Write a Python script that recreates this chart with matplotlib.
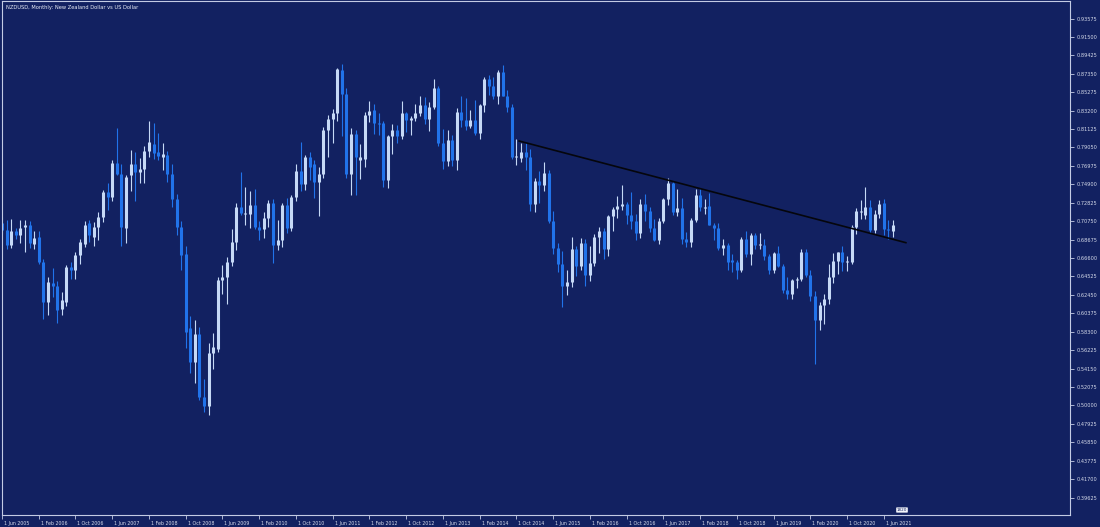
import matplotlib
matplotlib.use("Agg")
import matplotlib.pyplot as plt
import matplotlib.transforms as mtrans
import numpy as np

# NZDUSD monthly candles, Jun 2005 .. Aug 2021
opens = [
    .7060, .6975, .6810, .6960, .6920, .7010, .7030,                                   # 2005 Jun-Dec
    .6820, .6900, .6620, .6160, .6380, .6350, .6090, .6170, .6560, .6520, .6690, .6820,  # 2006
    .7060, .6900, .7010, .7120, .7400, .7350, .7730, .7610, .7000, .7590, .7720, .7630,  # 2007
    .7660, .7860, .7940, .7850, .7800, .7820, .7610, .7330, .7010, .6710, .5870, .5490,  # 2008
    .5810, .5100, .4990, .5590, .5640, .6410, .6450, .6620, .6840, .7240, .7160, .7160,  # 2009
    .7260, .7010, .6990, .7110, .7280, .6810, .6860, .7260, .7000, .7350, .7640, .7490,  # 2010
    .7800, .7720, .7520, .7610, .8100, .8230, .8290, .8780, .8510, .7610, .8060, .7765,  # 2011
    .7780, .8270, .8330, .8180, .8180, .7540, .8030, .8100, .8030, .8290, .8220, .8240,  # 2012
    .8290, .8380, .8230, .8360, .8570, .7950, .7750, .7990, .7760, .8310, .8220, .8150,  # 2013
    .8220, .8070, .8380, .8680, .8600, .8480, .8760, .8490, .8360, .7800, .7790, .7850,  # 2014
    .7800, .7270, .7530, .7480, .7620, .7080, .6770, .6590, .6350, .6390, .6760, .6570,  # 2015
    .6830, .6470, .6600, .6900, .6970, .6760, .7130, .7210, .7250, .7270, .7150, .7080,  # 2016
    .6940, .7270, .7190, .7000, .6860, .7080, .7330, .7510, .7180, .7220, .6880, .6840,  # 2017
    .7090, .7370, .7220, .7250, .7030, .6995, .6770, .6810, .6640, .6620, .6530, .6880,  # 2018
    .6710, .6920, .6810, .6810, .6680, .6530, .6720, .6570, .6300, .6260, .6410, .6420,  # 2019
    .6730, .6470, .6230, .5960, .6130, .6200, .6450, .6630, .6730, .6610, .6620, .7010,  # 2020
    .7180, .7150, .7230, .6980, .7160, .7280, .6990, .6960,                              # 2021 Jan-Aug
]
highs = [
    .7120, .7090, .7100, .7000, .7090, .7090, .7080,
    .6960, .6960, .6650, .6450, .6550, .6400, .6280, .6580, .6620, .6730, .6880, .7080,
    .7090, .7070, .7180, .7430, .7500, .7760, .8120, .7720, .7600, .7880, .7850, .7790,
    .7920, .8200, .8180, .8070, .7960, .7860, .7720, .7380, .7080, .6800, .6010, .5960,
    .5880, .5300, .5700, .5820, .6450, .6580, .6670, .6990, .7280, .7630, .7460, .7410,
    .7440, .7080, .7180, .7310, .7330, .7090, .7280, .7340, .7370, .7720, .7970, .7820,
    .7850, .7760, .7690, .8140, .8270, .8340, .8800, .8843, .8580, .8120, .8100, .7940,
    .8300, .8430, .8400, .8290, .8200, .8050, .8170, .8160, .8430, .8300, .8260, .8400,
    .8480, .8470, .8420, .8676, .8600, .8110, .8100, .8050, .8350, .8490, .8460, .8330,
    .8440, .8400, .8700, .8720, .8700, .8780, .8836, .8550, .8400, .8000, .7960, .7960,
    .7890, .7560, .7640, .7740, .7650, .7190, .6830, .6740, .6530, .6900, .6790, .6890,
    .6870, .6790, .6930, .7010, .7000, .7150, .7240, .7360, .7485, .7290, .7400, .7160,
    .7320, .7380, .7240, .7100, .7110, .7340, .7558, .7520, .7435, .7340, .6950, .7110,
    .7440, .7440, .7320, .7390, .7060, .7060, .6870, .6830, .6700, .6640, .6900, .6970,
    .6940, .6940, .6940, .6880, .6700, .6730, .6790, .6590, .6450, .6420, .6450, .6760,
    .6760, .6530, .6290, .6170, .6250, .6590, .6720, .6730, .6800, .6680, .7030, .7220,
    .7310, .7465, .7310, .7200, .7310, .7320, .7090, .7090,
]
lows = [
    .6930, .6760, .6770, .6870, .6830, .6730, .6770,
    .6760, .6590, .5975, .6020, .6220, .5930, .6020, .6120, .6420, .6420, .6590, .6780,
    .6840, .6800, .6860, .7070, .7200, .7300, .7600, .6800, .6830, .7420, .7300, .7510,
    .7500, .7800, .7780, .7760, .7650, .7520, .7230, .6920, .6520, .5650, .5370, .5250,
    .5060, .4930, .4890, .5410, .5600, .6250, .6140, .6570, .6750, .7150, .7030, .7000,
    .6990, .6860, .6890, .7010, .6600, .6750, .6780, .6940, .6960, .7300, .7410, .7430,
    .7540, .7340, .7130, .7560, .7800, .7950, .8200, .8030, .7560, .7370, .7370, .7550,
    .7680, .8190, .8060, .8050, .7460, .7450, .7830, .7950, .8000, .8080, .8050, .8200,
    .8260, .8170, .8090, .8340, .7920, .7660, .7700, .7700, .7650, .8140, .8100, .8120,
    .8050, .8000, .8300, .8500, .8450, .8400, .8490, .8310, .7770, .7710, .7740, .7650,
    .7190, .7180, .7280, .7410, .7060, .6710, .6500, .6110, .6240, .6330, .6460, .6520,
    .6350, .6400, .6570, .6720, .6650, .6680, .6960, .7110, .7200, .7040, .6990, .6860,
    .6890, .7080, .6950, .6850, .6820, .7050, .7260, .7150, .7130, .6820, .6780, .6780,
    .7070, .7190, .7160, .7030, .6860, .6750, .6690, .6530, .6500, .6420, .6500, .6670,
    .6580, .6760, .6760, .6640, .6480, .6490, .6560, .6270, .6200, .6200, .6320, .6400,
    .6450, .6180, .5469, .5850, .5920, .6140, .6380, .6480, .6510, .6510, .6590, .6930,
    .7100, .7100, .6940, .6940, .7110, .6920, .6880, .6900,
]
closes = [
    .6975, .6810, .6960, .6920, .7000, .7030, .6830,
    .6890, .6620, .6160, .6390, .6340, .6080, .6190, .6560, .6520, .6690, .6840, .7030,
    .6920, .7010, .7120, .7400, .7350, .7730, .7610, .7010, .7570, .7720, .7630, .7660,
    .7860, .7970, .7840, .7810, .7830, .7610, .7330, .7010, .6690, .5830, .5490, .5810,
    .5100, .4990, .5590, .5660, .6410, .6450, .6620, .6840, .7240, .7170, .7170, .7260,
    .7010, .6980, .7110, .7280, .6810, .6860, .7260, .7000, .7350, .7640, .7490, .7800,
    .7690, .7520, .7610, .8100, .8230, .8290, .8790, .8510, .7610, .8060, .7800, .7800,
    .8270, .8320, .8180, .8170, .7540, .8030, .8100, .8030, .8290, .8220, .8240, .8290,
    .8380, .8230, .8360, .8570, .7950, .7750, .7990, .7760, .8310, .8220, .8150, .8220,
    .8070, .8380, .8680, .8600, .8480, .8760, .8490, .8360, .7800, .7810, .7850, .7800,
    .7270, .7530, .7480, .7620, .7080, .6770, .6590, .6350, .6390, .6760, .6570, .6830,
    .6470, .6600, .6900, .6970, .6760, .7130, .7210, .7250, .7270, .7150, .7080, .6940,
    .7270, .7190, .7000, .6860, .7080, .7330, .7510, .7180, .7220, .6880, .6840, .7090,
    .7370, .7240, .7230, .7030, .6995, .6770, .6810, .6620, .6620, .6530, .6880, .6710,
    .6920, .6810, .6812, .6680, .6530, .6720, .6570, .6300, .6260, .6410, .6420, .6730,
    .6470, .6230, .5960, .6130, .6200, .6450, .6630, .6730, .6610, .6620, .7010, .7190,
    .7190, .7230, .6980, .7160, .7270, .6990, .6980, .7030,
]

date_labels = ["1 Jun 2005", "1 Feb 2006", "1 Oct 2006", "1 Jun 2007", "1 Feb 2008",
               "1 Oct 2008", "1 Jun 2009", "1 Feb 2010", "1 Oct 2010", "1 Jun 2011",
               "1 Feb 2012", "1 Oct 2012", "1 Jun 2013", "1 Feb 2014", "1 Oct 2014",
               "1 Jun 2015", "1 Feb 2016", "1 Oct 2016", "1 Jun 2017", "1 Feb 2018",
               "1 Oct 2018", "1 Jun 2019", "1 Feb 2020", "1 Oct 2020", "1 Jun 2021"]
price_ticks = [0.39625, 0.41700, 0.43775, 0.45850, 0.47925, 0.50000, 0.52075, 0.54150,
               0.56225, 0.58300, 0.60375, 0.62450, 0.64525, 0.66600, 0.68675, 0.70750,
               0.72825, 0.74900, 0.76975, 0.79050, 0.81125, 0.83200, 0.85275, 0.87350,
               0.89425, 0.91500, 0.93575]

# hand drawn trend line (bar index, price)
trend_x = [112.6, 196.8]
trend_y = [0.7978, 0.6833]

bg = '#122161'
frame = '#c3cbe4'
bull_col = '#c6d9f6'
bear_col = '#2173ea'

o = np.array(opens); h = np.array(highs); l = np.array(lows); c = np.array(closes)
x = np.arange(len(o))
up = c >= o
cols = np.where(up, bull_col, bear_col)

fig = plt.figure(figsize=(11, 5.27), dpi=100, facecolor=bg)
ax = fig.add_axes([2/1100, 12/527, 1068/1100, 514/527])
ax.set_facecolor(bg)

# wicks, then bodies as thick butt-capped lines (3 px wide)
ax.vlines(x, l, h, colors=cols, linewidth=0.8)
top = np.maximum(o, c)
bot = np.minimum(o, c)
small = (top - bot) < 0.0012
top = np.where(small, bot + 0.0012, top)
bodies = ax.vlines(x, bot, top, colors=cols, linewidth=2.2)
bodies.set_capstyle('butt')

ax.plot(trend_x, trend_y, color='#05060c', linewidth=1.2)

ax.set_xlim(0.11, 0.11 + 1068/4.595)
ax.set_ylim(0.37663, 0.95546)

for s in ax.spines.values():
    s.set_color(frame)
    s.set_linewidth(0.8)

ax.yaxis.tick_right()
ax.set_yticks(price_ticks)
ax.set_yticklabels(["%.5f" % p for p in price_ticks])
ax.tick_params(axis='y', direction='out', length=3, width=0.6, color=frame,
               labelsize=3.6, labelcolor='#d6dbea', pad=1.5)

ax.set_xticks(range(0, len(o), 8))
ax.set_xticklabels(date_labels, ha='left')
ax.tick_params(axis='x', direction='out', length=3, width=0.6, color=frame,
               labelsize=3.4, labelcolor='#d6dbea', pad=1.2)
shift = mtrans.ScaledTranslation(2/100, 0, fig.dpi_scale_trans)
for lab in ax.get_xticklabels():
    lab.set_transform(lab.get_transform() + shift)

ax.text(0.004, 0.992, "NZDUSD, Monthly: New Zealand Dollar vs US Dollar", transform=ax.transAxes,
        ha='left', va='top', fontsize=3.7, color='#e8ecf6')

fig.text(902/1100, 1 - 510/527, "1820", ha='center', va='center', fontsize=3.0, color='#112060',
         bbox=dict(boxstyle='round,pad=0.15', facecolor='#f2f4fa', edgecolor='none'))

fig.savefig("out.png", dpi=100, facecolor=bg)
